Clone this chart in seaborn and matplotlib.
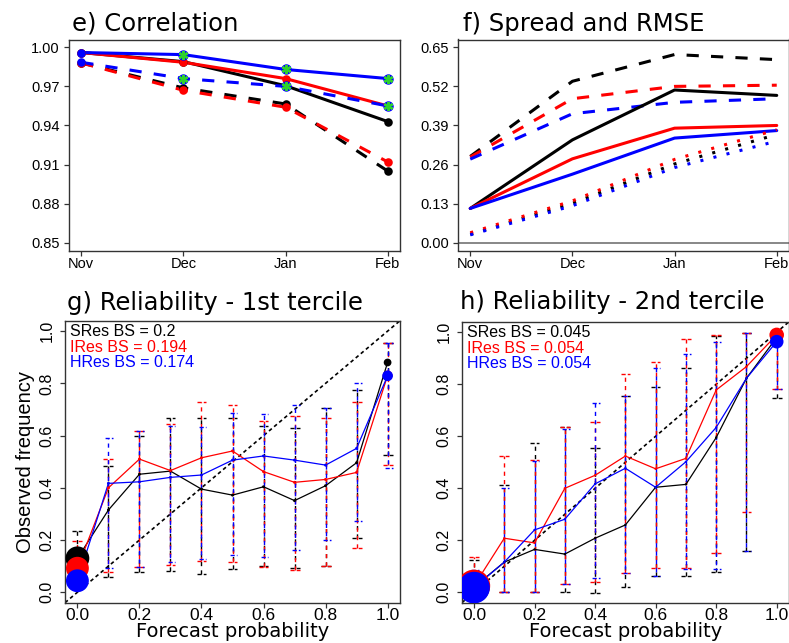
import numpy as np
import seaborn as sns
import matplotlib.pyplot as plt

months = ['Nov', 'Dec', 'Jan', 'Feb']
res_colors = ['black', 'red', 'blue']   # SRes, IRes, HRes

# e) correlation (solid / dashed)
cor_s_solid = [0.996, 0.989, 0.9705, 0.943]
cor_i_solid = [0.996, 0.9885, 0.976, 0.955]
cor_h_solid = [0.996, 0.9944, 0.983, 0.976]
cor_s_dash = [0.988, 0.9688, 0.9565, 0.905]
cor_i_dash = [0.988, 0.967, 0.954, 0.912]
cor_h_dash = [0.9885, 0.976, 0.970, 0.955]
cor_signif = [False, True, True, True]   # green stars on HRes

# f) spread and RMSE
rmse_s = [0.287, 0.537, 0.626, 0.609]
rmse_i = [0.285, 0.479, 0.52, 0.524]
rmse_h = [0.278, 0.429, 0.467, 0.479]
sprd_s = [0.114, 0.342, 0.508, 0.49]
sprd_i = [0.114, 0.279, 0.381, 0.39]
sprd_h = [0.114, 0.228, 0.348, 0.373]
dot_s = [0.028, 0.131, 0.262, 0.36]
dot_i = [0.033, 0.139, 0.277, 0.376]
dot_h = [0.026, 0.123, 0.25, 0.338]

# reliability diagrams
prob = [0.0, 0.1, 0.2, 0.3, 0.4, 0.5, 0.6, 0.7, 0.8, 0.9, 1.0]

g_obs_s = [0.13, 0.315, 0.452, 0.464, 0.395, 0.372, 0.404, 0.351, 0.408, 0.496, 0.88]
g_obs_i = [0.092, 0.40, 0.51, 0.466, 0.515, 0.541, 0.462, 0.421, 0.432, 0.459, 0.83]
g_obs_h = [0.044, 0.417, 0.423, 0.44, 0.449, 0.506, 0.522, 0.506, 0.487, 0.551, 0.829]
g_hi_s = [0.236, 0.485, 0.60, 0.668, 0.668, 0.666, 0.638, 0.63, 0.704, 0.774, 0.953]
g_lo_s = [0.06, 0.06, 0.079, 0.083, 0.07, 0.089, 0.10, 0.094, 0.102, 0.209, 0.525]
g_hi_i = [0.196, 0.51, 0.616, 0.644, 0.729, 0.719, 0.656, 0.675, 0.668, 0.729, 0.953]
g_lo_i = [0.04, 0.079, 0.098, 0.104, 0.121, 0.115, 0.098, 0.085, 0.102, 0.168, 0.487]
g_hi_h = [0.102, 0.592, 0.616, 0.636, 0.631, 0.687, 0.681, 0.717, 0.707, 0.802, 0.953]
g_lo_h = [0.02, 0.094, 0.098, 0.117, 0.126, 0.143, 0.134, 0.162, 0.2, 0.273, 0.475]
g_freq_s = [0.52, 0.008, 0.008, 0.008, 0.008, 0.008, 0.008, 0.008, 0.008, 0.008, 0.055]
g_freq_i = [0.48, 0.008, 0.008, 0.008, 0.008, 0.008, 0.008, 0.008, 0.008, 0.008, 0.087]
g_freq_h = [0.48, 0.008, 0.008, 0.008, 0.008, 0.008, 0.008, 0.008, 0.008, 0.008, 0.105]
g_bs = ['0.2', '0.194', '0.174']

h_obs_s = [0.02, 0.116, 0.165, 0.147, 0.208, 0.259, 0.404, 0.415, 0.595, 0.823, 0.98]
h_obs_i = [0.025, 0.208, 0.19, 0.40, 0.45, 0.524, 0.475, 0.515, 0.778, 0.868, 0.99]
h_obs_h = [0.018, 0.116, 0.24, 0.281, 0.417, 0.477, 0.404, 0.502, 0.634, 0.823, 0.964]
h_hi_s = [0.126, 0.413, 0.575, 0.637, 0.556, 0.755, 0.788, 0.864, 0.985, 0.996, 1.0]
h_lo_s = [0.0, 0.002, 0.002, 0.002, -0.004, 0.022, 0.064, 0.064, 0.078, 0.16, 0.746]
h_hi_i = [0.134, 0.524, 0.509, 0.637, 0.656, 0.838, 0.885, 0.973, 0.99, 0.996, 1.0]
h_lo_i = [0.0, 0.002, 0.002, 0.032, 0.041, 0.073, 0.092, 0.092, 0.152, 0.308, 0.782]
h_hi_h = [0.086, 0.40, 0.505, 0.63, 0.729, 0.755, 0.862, 0.915, 0.964, 0.996, 1.0]
h_lo_h = [0.0, 0.0, 0.002, 0.032, 0.054, 0.073, 0.064, 0.088, 0.088, 0.16, 0.782]
h_freq_s = [0.9, 0.005, 0.005, 0.005, 0.005, 0.005, 0.005, 0.005, 0.005, 0.005, 0.146]
h_freq_i = [0.96, 0.005, 0.005, 0.005, 0.005, 0.005, 0.005, 0.005, 0.005, 0.005, 0.195]
h_freq_h = [0.92, 0.005, 0.005, 0.005, 0.005, 0.005, 0.005, 0.005, 0.005, 0.005, 0.17]
h_bs = ['0.045', '0.054', '0.054']

sns.set_style("ticks")
plt.rcParams['font.family'] = ['Liberation Sans', 'DejaVu Sans']
plt.rcParams['axes.edgecolor'] = '0.2'
plt.rcParams['text.color'] = 'black'
plt.rcParams['xtick.labelcolor'] = 'black'
plt.rcParams['ytick.labelcolor'] = 'black'
plt.rcParams['axes.labelcolor'] = 'black'

DASH = (0, (4, 4))
DOT = (0, (1, 3.4))
LW = 2.2

fig = plt.figure(figsize=(7.89, 6.43), dpi=100)
W, H = 789.0, 643.0


def add_ax(l, t, r, b):
    return fig.add_axes([l / W, 1 - b / H, (r - l) / W, (b - t) / H])


ax_e = add_ax(69, 39.5, 400, 250.5)
ax_f = add_ax(458, 39.5, 789, 250.5)
ax_g = add_ax(65, 320.7, 400, 602.7)
ax_h = add_ax(461.9, 321.9, 788.8, 602.7)

x = np.arange(len(months))

# ---- e) correlation
solid = [cor_s_solid, cor_i_solid, cor_h_solid]
dashed = [cor_s_dash, cor_i_dash, cor_h_dash]
for vals, c in zip(solid + dashed, res_colors * 2):
    ls = '-' if any(vals is s for s in solid) else DASH
    sns.lineplot(x=x, y=vals, ax=ax_e, color=c, linewidth=LW, linestyle=ls)
    sns.scatterplot(x=x, y=vals, ax=ax_e, color=c, s=38, linewidth=0, zorder=3)
sig = np.array(cor_signif)
for vals in [cor_h_solid, cor_h_dash]:
    v = np.array(vals)
    ax_e.plot(x[sig], v[sig], 'o', color='blue', ms=6.5, zorder=4)
    ax_e.plot(x[sig], v[sig], marker=(6, 2, 0), ls='none', color='#2ed12e',
              ms=6.5, mew=1.7, zorder=5)

ax_e.set_ylim(0.844, 1.006)
ax_e.set_yticks([0.85, 0.88, 0.91, 0.94, 0.97, 1.00])
ax_e.set_yticklabels(['0.85', '0.88', '0.91', '0.94', '0.97', '1.00'])

# ---- f) spread and RMSE
for vals, c in zip([rmse_s, rmse_i, rmse_h], res_colors):
    sns.lineplot(x=x, y=vals, ax=ax_f, color=c, linewidth=LW, linestyle=DASH)
for vals, c in zip([sprd_s, sprd_i, sprd_h], res_colors):
    sns.lineplot(x=x, y=vals, ax=ax_f, color=c, linewidth=LW, linestyle='-')
for vals, c in zip([dot_s, dot_i, dot_h], res_colors):
    sns.lineplot(x=x, y=vals, ax=ax_f, color=c, linewidth=LW, linestyle=DOT)
ax_f.axhline(0, color='0.45', lw=1.2, zorder=0)
ax_f.set_ylim(-0.026, 0.676)
ax_f.set_yticks([0.0, 0.13, 0.26, 0.39, 0.52, 0.65])
ax_f.set_yticklabels(['0.00', '0.13', '0.26', '0.39', '0.52', '0.65'])

for ax in (ax_e, ax_f):
    ax.set_xlim(-0.12, 3.12)
    ax.set_xticks(x)
    ax.set_xticklabels(months)
    ax.tick_params(axis='both', labelsize=10.5, length=3.5, width=0.9,
                   pad=1.5, color='0.2')
    ax.tick_params(axis='y', pad=3)
    ax.set_xlabel('')
    ax.set_ylabel('')


# ---- reliability panels
def reliability(ax, obs, his, los, freqs, bs):
    p = np.array(prob)
    ax.axline((0, 0), (1, 1), color='black', lw=1.2, ls=(0, (2.2, 1.8)), zorder=1)
    offs = [0, 0, 3]
    for o, hi, lo, c, off in zip(obs, his, los, res_colors, offs):
        ax.vlines(p, lo, hi, colors=c, lw=1.0, linestyles=[(off, (3, 3))], zorder=2)
        for yv in (hi, lo):
            ax.hlines(yv, p - 0.016, p + 0.016, colors=c, lw=1.0,
                      linestyles=[(off, (3, 1.5))], zorder=2)
    for o, c in zip(obs, res_colors):
        sns.lineplot(x=p, y=o, ax=ax, color=c, linewidth=0.9, zorder=3)
    for o, f, c in zip(obs, freqs, res_colors):
        ms = 2 * 16.5 * np.sqrt(np.array(f)) * 0.72
        sns.scatterplot(x=p, y=o, ax=ax, color=c, s=ms ** 2, linewidth=0,
                        zorder=4, legend=False)
    ax.set_xlim(-0.04, 1.04)
    ax.set_ylim(-0.04, 1.04)
    ax.set_xticks([0, 0.2, 0.4, 0.6, 0.8, 1.0])
    ax.set_xticklabels(['0.0', '0.2', '0.4', '0.6', '0.8', '1.0'])
    ax.set_yticks([0, 0.2, 0.4, 0.6, 0.8, 1.0])
    ax.set_yticklabels(['0.0', '0.2', '0.4', '0.6', '0.8', '1.0'],
                       rotation=90, va='center')
    ax.tick_params(axis='x', labelsize=12.5, length=3.5, width=0.9, pad=0.5,
                   color='0.2')
    ax.tick_params(axis='y', labelsize=11.5, length=3.5, width=0.9, pad=4,
                   color='0.2')
    ax.set_xlabel('Forecast probability', fontsize=14, family='DejaVu Sans',
                  labelpad=-1)
    ax.set_ylabel('')
    names = ['SRes', 'IRes', 'HRes']
    for i, (n, b, c) in enumerate(zip(names, bs, res_colors)):
        ax.text(0.015, 0.945 - i * 0.055, f'{n} BS = {b}', color=c, fontsize=11.5,
                transform=ax.transAxes, va='baseline', ha='left')


reliability(ax_g, [g_obs_s, g_obs_i, g_obs_h], [g_hi_s, g_hi_i, g_hi_h],
            [g_lo_s, g_lo_i, g_lo_h], [g_freq_s, g_freq_i, g_freq_h], g_bs)
reliability(ax_h, [h_obs_s, h_obs_i, h_obs_h], [h_hi_s, h_hi_i, h_hi_h],
            [h_lo_s, h_lo_i, h_lo_h], [h_freq_s, h_freq_i, h_freq_h], h_bs)
ax_g.set_ylabel('Observed frequency', fontsize=14.5, labelpad=3)

for ax in (ax_e, ax_f, ax_g, ax_h):
    ax.grid(False)
    for sp in ax.spines.values():
        sp.set_visible(True)
        sp.set_linewidth(1.0)
        sp.set_color('0.2')

tfont = dict(family='DejaVu Sans', fontsize=17.5, va='baseline', ha='left',
             color='black')
fig.text(72 / W, 1 - 30.7 / H, 'e) Correlation', **tfont)
fig.text(463 / W, 1 - 30.7 / H, 'f) Spread and RMSE', **tfont)
fig.text(67 / W, 1 - 310 / H, 'g) Reliability - 1st tercile', **tfont)
fig.text(460 / W, 1 - 309.5 / H, 'h) Reliability - 2nd tercile', **tfont)

fig.savefig('out.png', dpi=100)
